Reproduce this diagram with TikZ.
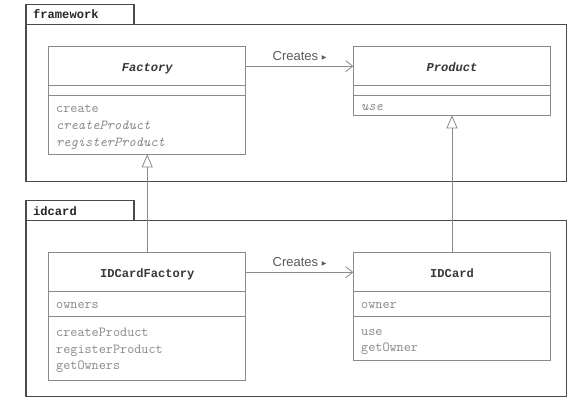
\documentclass[tikz,border=0pt]{standalone}
\usepackage{fontspec}
\setsansfont{Liberation Sans}
\newfontfamily\symfont{DejaVu Sans}
\newfontfamily\namefont{Liberation Mono}
\usetikzlibrary{arrows.meta}
\definecolor{pkgline}{HTML}{4A4A4A}
\definecolor{boxline}{HTML}{8A8A8A}
\definecolor{memtext}{HTML}{8A8A8A}
\definecolor{nametext}{HTML}{383838}
\definecolor{labtext}{HTML}{5A5A5A}
\newcommand{\mysz}{\fontsize{13.8}{13.8}\selectfont}
\newcommand{\namesz}{\fontsize{12.1}{12.1}\selectfont}
\newcommand{\tri}{\raisebox{1.6pt}{\symfont\fontsize{6}{6}\selectfont ▶}}
\tikzset{
  pkg/.style={draw=pkgline, line width=1.2pt, inner sep=0pt, outer sep=0pt, anchor=north west},
  pkgtab/.style={draw=pkgline, line width=1.2pt, inner sep=0pt, outer sep=0pt, anchor=north west},
  tabtext/.style={anchor=base west, inner sep=0pt, font=\namefont\bfseries\namesz, text=black!85},
  classbox/.style={draw=boxline, line width=0.8pt, fill=white, inner sep=0pt, outer sep=0pt, anchor=north west},
  compart/.style={draw=boxline, line width=0.8pt, inner sep=0pt, outer sep=0pt, anchor=north west},
  cname/.style={anchor=base, inner sep=0pt, font=\namefont\bfseries\namesz, text=nametext},
  aname/.style={cname, font=\namefont\bfseries\itshape\namesz},
  member/.style={anchor=base west, inner sep=0pt, font=\ttfamily\mysz, text=memtext},
  amember/.style={member, font=\ttfamily\itshape\mysz},
  assoc/.style={draw=boxline, line width=0.8pt, -{Straight Barb[length=7pt,width=11pt,line width=0.8pt]}},
  inherit/.style={draw=boxline, line width=0.8pt, -{Triangle[open,length=13pt,width=11pt,line width=0.8pt,fill=white]}},
  asslabel/.style={inner sep=0pt, font=\sffamily\fontsize{13}{13}\selectfont, text=labtext}
}
\begin{document}
\begin{tikzpicture}[x=1pt,y=-1pt]
\useasboundingbox (0,0) rectangle (578,410);
% packages
\node[pkgtab, minimum width=108pt, minimum height=20pt] (fwtab) at (26,4.5) {};
\node[pkg, minimum width=540.7pt, minimum height=157.5pt] (fw) at (26,24.3) {};
\node[tabtext] (fwname) at (33,18.6) {framework};
\node[pkgtab, minimum width=108pt, minimum height=20pt] (idtab) at (26,200.3) {};
\node[pkg, minimum width=540.7pt, minimum height=176.5pt] (id) at (26,220.3) {};
\node[tabtext] (idname) at (33,215) {idcard};

% Factory
\node[classbox, minimum width=197pt, minimum height=107.6pt] (factory) at (48.7,46.7) {};
\node[compart, minimum width=197pt, minimum height=39pt] (factoryhead) at (48.7,46.7) {};
\node[compart, minimum width=197pt, minimum height=10pt] (factoryattr) at (48.7,85.7) {};
\node[aname] (factoryname) at (147.2,71) {Factory};
\node[member] (f1) at (56,112.7) {create};
\node[amember] (f2) at (56,129.3) {createProduct};
\node[amember] (f3) at (56,146) {registerProduct};

% Product
\node[classbox, minimum width=197.4pt, minimum height=68.6pt] (product) at (353.3,46.7) {};
\node[compart, minimum width=197.4pt, minimum height=39pt] (producthead) at (353.3,46.7) {};
\node[compart, minimum width=197.4pt, minimum height=10pt] (productattr) at (353.3,85.7) {};
\node[aname] (productname) at (452,71) {Product};
\node[amember] (p1) at (361,110) {use};

% IDCardFactory
\node[classbox, minimum width=197pt, minimum height=128pt] (idf) at (48.7,252.7) {};
\node[compart, minimum width=197pt, minimum height=39pt] (idfhead) at (48.7,252.7) {};
\node[compart, minimum width=197pt, minimum height=25pt] (idfattr) at (48.7,291.7) {};
\node[cname] (idfname) at (147.2,277.3) {IDCardFactory};
\node[member] (i0) at (56,308.7) {owners};
\node[member] (i1) at (56,336.7) {createProduct};
\node[member] (i2) at (56,353) {registerProduct};
\node[member] (i3) at (56,369.3) {getOwners};

% IDCard
\node[classbox, minimum width=197.4pt, minimum height=108pt] (idc) at (353.3,252.7) {};
\node[compart, minimum width=197.4pt, minimum height=39pt] (idchead) at (353.3,252.7) {};
\node[compart, minimum width=197.4pt, minimum height=25pt] (idcattr) at (353.3,291.7) {};
\node[cname] (idcname) at (452,277.3) {IDCard};
\node[member] (c0) at (361,308.7) {owner};
\node[member] (c1) at (361,335) {use};
\node[member] (c2) at (361,351.3) {getOwner};

% connectors
\draw[assoc] (factoryhead.east) -- node[asslabel, above=5pt] (lab1) {Creates \tri} (producthead.west);
\draw[assoc] (idfhead.east) -- node[asslabel, above=5pt] (lab2) {Creates \tri} (idchead.west);
\draw[inherit] (idf.north -| factory.south) -- (factory.south);
\draw[inherit] (idc.north -| product.south) -- (product.south);
\end{tikzpicture}
\end{document}
